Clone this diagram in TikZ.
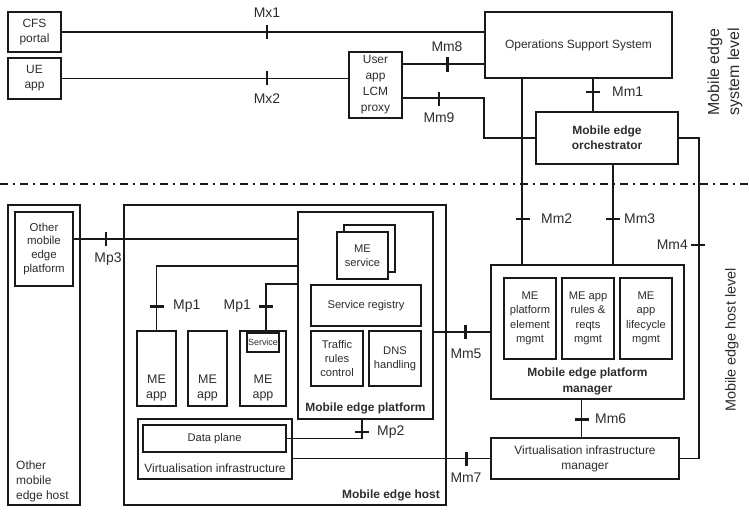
\documentclass[tikz,border=0pt]{standalone}
\usepackage{fontspec}
\setmainfont{Liberation Sans}
\usetikzlibrary{calc}
\definecolor{ln}{RGB}{25,25,25}
\definecolor{txt}{RGB}{45,45,45}
\newcommand\fsz[2]{\fontsize{#1}{#2}\selectfont}
\begin{document}
\begin{tikzpicture}[x=1bp,y=-1bp,
  box/.style={draw=ln, line width=1.8bp, fill=white, inner sep=0pt, align=center, text=txt, font=\fsz{12}{15}},
  sbox/.style={box, font=\fsz{11.2}{14.5}},
  txtn/.style={inner sep=0pt, align=center, text=txt, font=\fsz{12}{15}},
  btxt/.style={txtn, font=\bfseries\fsz{12}{16}},
  lab/.style={inner sep=0pt, text=txt, font=\fsz{14}{16}},
  conn/.style={draw=ln, line width=1.9bp},
  vtick/.style={fill=ln, inner sep=0pt, minimum width=2.2bp, minimum height=14bp},
  htick/.style={fill=ln, inner sep=0pt, minimum width=14bp, minimum height=2.2bp},
  vtickb/.style={vtick, minimum width=3bp},
  htickb/.style={htick, minimum height=3bp},
]
\useasboundingbox (0,0) rectangle (749,512);
\fill[white] (0,0) rectangle (749,512);

% ---- containers
\node[box, minimum width=72bp, minimum height=300bp] (omeh) at (44,355) {};
\node[box, minimum width=322bp, minimum height=300bp] (meh) at (285,355) {};

% ---- system level boxes
\node[box, minimum width=53bp, minimum height=40bp] (cfs) at (34.5,32) {CFS\\portal};
\node[box, minimum width=53bp, minimum height=41bp] (ue) at (34.5,78.5) {UE\\app};
\node[box, minimum width=53bp, minimum height=66bp, font=\fsz{12}{16}] (proxy) at (375.5,85) {User\\app\\LCM\\proxy};
\node[box, minimum width=187bp, minimum height=66bp] (oss) at (578.5,45) {Operations Support System};
\node[box, minimum width=142bp, minimum height=52bp, font=\bfseries\fsz{12}{15}] (meo) at (607,138) {Mobile edge\\orchestrator};

% ---- host level boxes
\node[sbox, minimum width=58bp, minimum height=74bp, font=\fsz{11.5}{14}] (omep) at (44,249) {Other\\mobile\\edge\\platform};
\node[box, minimum width=135bp, minimum height=207bp] (mep) at (365.5,315.5) {};
\node[box, minimum width=51bp, minimum height=47bp] (svcb) at (369.5,248.5) {};
\node[sbox, minimum width=51bp, minimum height=47bp] (svcf) at (362.5,255.5) {ME\\service};
\node[sbox, minimum width=110bp, minimum height=41bp] (sreg) at (366,305.5) {Service registry};
\node[sbox, minimum width=52bp, minimum height=55bp] (trc) at (337,358.5) {Traffic\\rules\\control};
\node[sbox, minimum width=52bp, minimum height=55bp] (dns) at (395,358.5) {DNS\\handling};
\node[btxt] (mepT) at (365.5,408) {Mobile edge platform};

\node[box, minimum width=39bp, minimum height=75bp] (app1) at (156.5,368.5) {};
\node[box, minimum width=39bp, minimum height=75bp] (app2) at (207.5,368.5) {};
\node[box, minimum width=46bp, minimum height=75bp] (app3) at (263,368.5) {};
\node[box, minimum width=32bp, minimum height=19bp, font=\fsz{9}{10}] (svc) at (263,342.5) {Service};
\node[txtn, font=\fsz{12.5}{15}] (app1T) at (156.5,388) {ME\\app};
\node[txtn, font=\fsz{12.5}{15}] (app2T) at (207.5,388) {ME\\app};
\node[txtn, font=\fsz{12.5}{15}] (app3T) at (263,388) {ME\\app};

\node[box, minimum width=154bp, minimum height=60bp] (vi) at (215,449) {};
\node[sbox, minimum width=143bp, minimum height=27bp] (dp) at (214.5,438.5) {Data plane};
\node[txtn] (viT) at (215,468) {Virtualisation infrastructure};

\node[box, minimum width=193bp, minimum height=134bp] (mepm) at (587.5,332) {};
\node[sbox, minimum width=52bp, minimum height=81bp] (pem) at (530,318.5) {ME\\platform\\element\\mgmt};
\node[sbox, minimum width=52bp, minimum height=81bp] (arm) at (588,318.5) {ME app\\rules \&\\reqts\\mgmt};
\node[sbox, minimum width=52bp, minimum height=81bp] (alm) at (646,318.5) {ME\\app\\lifecycle\\mgmt};
\node[btxt] (mepmT) at (587.5,381) {Mobile edge platform\\manager};
\node[box, minimum width=188bp, minimum height=41bp] (vim) at (585,458.5) {Virtualisation infrastructure\\manager};

\node[txtn, align=left, anchor=south west] (omehT) at (16,502) {Other\\mobile\\edge host};
\node[btxt, anchor=east] (mehT) at (440,495) {Mobile edge host};

% ---- level labels
\node[txtn, rotate=90, font=\fsz{16}{20}] (sysT) at (725,72) {Mobile edge\\system level};
\node[txtn, rotate=90, font=\fsz{14.5}{17}] (hostT) at (732,340) {Mobile edge host level};

% ---- separator
\coordinate (sepL) at (0,184);
\coordinate (sepR) at (749,184);
\draw[ln, line width=1.8bp, dash pattern=on 8bp off 5bp on 2bp off 5bp] (sepL) -- (sepR);

% ---- connectors
\draw[conn] (cfs) -- (cfs -| oss.west);
\draw[conn] (ue) -- (ue -| proxy.west);
\draw[conn, line width=2.8bp] ([yshift=-13bp]proxy.north east) coordinate (m8a) -- (m8a -| oss.west);
\draw[conn] ([yshift=-47bp]proxy.north east) coordinate (m9a) -- (m9a -| oss.west) |- (meo.west);
\draw[conn] ([xshift=-14bp]meo.north) coordinate (m1a) -- (m1a |- oss.south);
\draw[conn] ([xshift=38bp]oss.south west) coordinate (m2a) -- (m2a |- mepm.north);
\draw[conn] ([xshift=6bp]meo.south) coordinate (m3a) -- (m3a |- mepm.north);
\draw[conn] (meo.east) -- ++(20bp,0) coordinate (m4a) |- (vim.east);
\draw[conn] ([yshift=10bp]omep.east) coordinate (p3a) -- (p3a -| mep.west);
\draw[conn] (app1.north) |- ([yshift=49.5bp]mep.west);
\draw[conn] ([xshift=3bp]app3.north) |- ([yshift=31.5bp]mep.west);
\draw[conn] (mep.east |- mepm.west) -- (mepm.west);
\draw[conn] (dp.east) -| ([xshift=-3.5bp]mep.south);
\draw[conn] ([xshift=-6bp]mepm.south) coordinate (m6a) -- (m6a |- vim.north);
\draw[conn] (vim.west -| vi.east) -- (vim.west);

% ---- reference point ticks and labels
\node[vtick] (tMx1) at (267,32) {};
\node[lab] (lMx1) at (267,13) {Mx1};
\node[vtick] (tMx2) at (267,78.5) {};
\node[lab] (lMx2) at (267,99) {Mx2};
\node[vtickb, minimum height=15bp] (tMm8) at (447,65) {};
\node[lab] (lMm8) at (447,47) {Mm8};
\node[vtick] (tMm9) at (439,99) {};
\node[lab] (lMm9) at (439,118) {Mm9};
\node[htick] (tMm1) at (593,92) {};
\node[lab, anchor=west] (lMm1) at (612,92) {Mm1};
\node[htick] (tMm2) at (523,219) {};
\node[lab, anchor=west] (lMm2) at (541,219) {Mm2};
\node[htick] (tMm3) at (613,219) {};
\node[lab, anchor=west] (lMm3) at (624,219) {Mm3};
\node[htick] (tMm4) at (698,245) {};
\node[lab, anchor=east] (lMm4) at (688,245) {Mm4};
\node[vtick] (tMp3) at (106,239) {};
\node[lab] (lMp3) at (108,259) {Mp3};
\node[htickb] (tMp1a) at (156.5,306) {};
\node[lab, anchor=west] (lMp1a) at (173,306) {Mp1};
\node[htickb] (tMp1b) at (266,306) {};
\node[lab, anchor=east] (lMp1b) at (251,306) {Mp1};
\node[vtickb] (tMm5) at (465,332) {};
\node[lab] (lMm5) at (466,354) {Mm5};
\node[htick] (tMp2) at (362,432) {};
\node[lab, anchor=west] (lMp2) at (377,432) {Mp2};
\node[htickb] (tMm6) at (581.5,419) {};
\node[lab, anchor=west] (lMm6) at (595,419) {Mm6};
\node[vtickb] (tMm7) at (466,458.5) {};
\node[lab] (lMm7) at (466,478) {Mm7};
\end{tikzpicture}
\end{document}
